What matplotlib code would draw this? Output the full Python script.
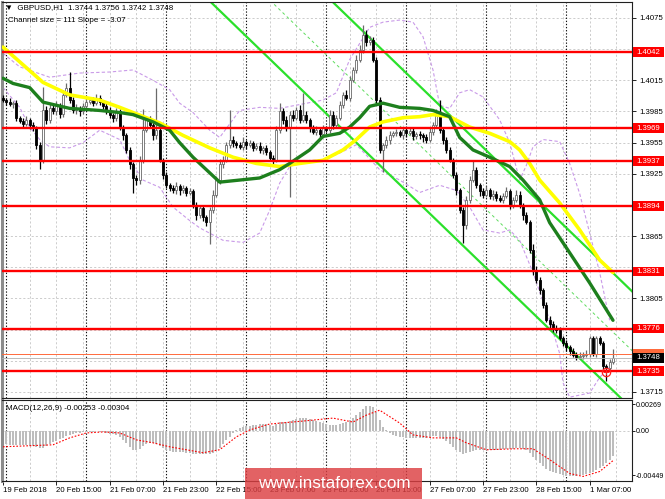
import matplotlib
matplotlib.use('Agg')
import matplotlib.pyplot as plt
import matplotlib.transforms as mtransforms
from matplotlib.patches import Rectangle

plt.rcParams['font.family'] = ['Liberation Sans', 'DejaVu Sans']

# --- GBPUSD H1, 19 Feb 23:00 .. 1 Mar 15:00 (one value per bar) ---
first_open = 1.3998
closes = [
    1.3996, 1.3994, 1.3992, 1.3993, 1.3979, 1.3976, 1.3973, 1.3977, 1.3972, 1.3969,
    1.3953, 1.3938, 1.3986, 1.3977, 1.3988, 1.3985, 1.3991, 1.3983, 1.4001, 1.4008,
    1.3996, 1.3986, 1.3988, 1.3985, 1.3990, 1.3994, 1.3996, 1.3993, 1.3998, 1.3994,
    1.3990, 1.3985, 1.3982, 1.3979, 1.3985, 1.3969, 1.3962, 1.3948, 1.3934, 1.3921,
    1.3919, 1.3938, 1.3967, 1.3977, 1.3972, 1.3962, 1.3967, 1.3938, 1.3924, 1.3914,
    1.3911, 1.3909, 1.3913, 1.3909, 1.3911, 1.3907, 1.3908, 1.3895, 1.3885, 1.3892,
    1.3883, 1.3879, 1.3890, 1.3905, 1.3919, 1.3934, 1.3938, 1.3953, 1.3958, 1.3955,
    1.3953, 1.3951, 1.3956, 1.3953, 1.3955, 1.3950, 1.3952, 1.3948, 1.3950, 1.3946,
    1.3940, 1.3938, 1.3967, 1.3985, 1.3977, 1.3969, 1.3982, 1.3979, 1.3986, 1.3977,
    1.3982, 1.3977, 1.3969, 1.3965, 1.3967, 1.3963, 1.3969, 1.3967, 1.3982, 1.3972,
    1.3979, 1.3991, 1.4001, 1.3998, 1.4015, 1.4025, 1.4035, 1.4044, 1.4059, 1.4052,
    1.4054, 1.4035, 1.3996, 1.3948, 1.3953, 1.3958, 1.3962, 1.3964, 1.3965, 1.3962,
    1.3967, 1.3964, 1.3966, 1.3961, 1.3963, 1.3962, 1.3960, 1.3958, 1.3965, 1.3972,
    1.3982, 1.3967, 1.3958, 1.3948, 1.3938, 1.3924, 1.3909, 1.3890, 1.3876, 1.3900,
    1.3919, 1.3929, 1.3914, 1.3908, 1.3905, 1.3909, 1.3904, 1.3906, 1.3902, 1.3900,
    1.3904, 1.3908, 1.3895, 1.3900, 1.3905, 1.3895, 1.3885, 1.3879, 1.3852, 1.3832,
    1.3823, 1.3813, 1.3799, 1.3784, 1.3780, 1.3777, 1.3775, 1.3767, 1.3762, 1.3758,
    1.3754, 1.3751, 1.3749, 1.3750, 1.3751, 1.3752, 1.3767, 1.3752, 1.3767, 1.3762,
    1.3740, 1.3738, 1.3744, 1.3748]
# shadow lengths in pips
up_wick = [
    3, 2, 4, 2, 3, 2, 3, 4, 2, 3,
    2, 3, 23, 4, 5, 3, 4, 2, 5, 4,
    15, 3, 4, 2, 3, 4, 2, 3, 4, 3,
    2, 3, 4, 2, 3, 2, 3, 2, 3, 2,
    3, 4, 20, 3, 4, 2, 41, 3, 2, 3,
    2, 3, 4, 2, 3, 2, 3, 2, 3, 2,
    3, 2, 3, 4, 3, 5, 4, 3, 28, 3,
    2, 3, 4, 2, 3, 2, 3, 4, 2, 3,
    2, 3, 4, 8, 3, 4, 3, 4, 3, 5,
    21, 3, 2, 3, 4, 2, 3, 2, 4, 3,
    3, 4, 3, 5, 4, 3, 4, 5, 9, 4,
    4, 3, 2, 3, 2, 3, 4, 2, 3, 2,
    3, 2, 3, 4, 2, 3, 2, 3, 4, 3,
    5, 14, 3, 2, 3, 2, 3, 2, 3, 4,
    4, 9, 3, 2, 3, 4, 2, 3, 2, 3,
    3, 4, 2, 3, 4, 3, 2, 3, 2, 5,
    4, 3, 2, 3, 4, 3, 2, 3, 2, 3,
    2, 3, 2, 3, 2, 3, 2, 2, 2, 2,
    2, 2, 3, 8]
dn_wick = [
    2, 3, 2, 4, 3, 2, 3, 2, 4, 3,
    4, 8, 3, 4, 3, 2, 3, 4, 3, 2,
    3, 2, 3, 4, 2, 3, 2, 3, 2, 3,
    3, 2, 3, 4, 3, 2, 4, 3, 4, 14,
    5, 4, 3, 2, 3, 4, 3, 2, 4, 3,
    3, 2, 3, 4, 2, 3, 2, 3, 4, 3,
    3, 4, 22, 3, 2, 4, 3, 2, 3, 4,
    3, 2, 3, 4, 2, 3, 2, 3, 4, 3,
    3, 4, 2, 3, 4, 3, 66, 3, 2, 3,
    2, 3, 4, 2, 3, 4, 3, 2, 3, 4,
    3, 2, 3, 2, 3, 2, 3, 2, 3, 4,
    3, 2, 3, 3, 21, 3, 4, 2, 3, 2,
    3, 4, 2, 3, 2, 3, 4, 3, 2, 3,
    2, 3, 4, 3, 2, 3, 4, 3, 18, 4,
    3, 2, 3, 4, 3, 2, 3, 4, 3, 2,
    3, 2, 4, 3, 2, 3, 4, 2, 3, 4,
    3, 4, 3, 2, 3, 4, 3, 2, 3, 4,
    3, 2, 3, 2, 3, 2, 3, 2, 3, 2,
    3, 12, 2, 2]

# moving averages (bar index, price)
ma_slow_bar = [0, 12, 20, 29, 35, 39, 47, 54, 62, 69, 76, 83, 89, 96, 102, 106, 110, 114, 120, 125,
               129, 134, 140, 146, 152, 155, 158, 161, 167, 173, 179, 183]
ma_slow = [1.4047, 1.4013, 1.4001, 1.3996, 1.3989, 1.3984, 1.3974, 1.3962, 1.3950, 1.3941,
           1.3935, 1.3932, 1.3935, 1.3938, 1.3948, 1.3958, 1.3970, 1.3975, 1.3979, 1.3980,
           1.3982, 1.3980, 1.3970, 1.3964, 1.3956, 1.3948, 1.3935, 1.3919, 1.3897, 1.3871,
           1.3842, 1.3830]
ma_fast_bar = [0, 3, 8, 12, 20, 29, 35, 39, 45, 50, 53, 57, 60, 65, 71, 77, 83, 86, 92, 96,
               101, 104, 107, 110, 114, 119, 125, 129, 134, 137, 141, 146, 152, 156, 161, 164, 170, 176, 183]
ma_fast = [1.4017, 1.4012, 1.4008, 1.3994, 1.3988, 1.3986, 1.3984, 1.3982, 1.3975, 1.3967,
           1.3955, 1.3941, 1.3932, 1.3917, 1.3919, 1.3921, 1.3929, 1.3935, 1.3948, 1.3961,
           1.3964, 1.3970, 1.3979, 1.3990, 1.3993, 1.3989, 1.3988, 1.3986, 1.3980, 1.3960,
           1.3948, 1.3941, 1.3932, 1.3919, 1.3900, 1.3878, 1.3849, 1.3820, 1.3784]

# bollinger bands
bb_up_bar = [0, 5, 14, 23, 32, 39, 45, 50, 53, 57, 62, 65, 71, 77, 83, 96, 100, 104, 110, 114,
             119, 123, 126, 129, 131, 134, 137, 140, 144, 149, 152, 155, 157, 159, 162, 167, 170, 173, 176, 179, 182]
bb_up = [1.4041, 1.4028, 1.4018, 1.4022, 1.4023, 1.4025, 1.4015, 1.4006, 1.3993, 1.3984,
         1.3967, 1.3960, 1.3986, 1.3989, 1.3988, 1.3996, 1.4003, 1.4035, 1.4066, 1.4071,
         1.4073, 1.4071, 1.4057, 1.4025, 1.3991, 1.3988, 1.4003, 1.4006, 1.3999, 1.3977,
         1.3955, 1.3919, 1.3933, 1.3951, 1.3958, 1.3956, 1.3935, 1.3906, 1.3868, 1.3830, 1.3784]
bb_dn_bar = [0, 5, 8, 11, 14, 20, 24, 29, 35, 38, 42, 47, 51, 56, 59, 66, 72, 77, 80, 83,
             86, 92, 96, 101, 106, 109, 113, 119, 125, 131, 136, 140, 144, 149, 152, 155, 159, 164, 167, 168,
             170, 176, 179, 182]
bb_dn = [1.4008, 1.3989, 1.3970, 1.3958, 1.3951, 1.3950, 1.3955, 1.3967, 1.3958, 1.3938,
         1.3919, 1.3912, 1.3893, 1.3880, 1.3873, 1.3861, 1.3859, 1.3868, 1.3890, 1.3916,
         1.3932, 1.3938, 1.3938, 1.3945, 1.3953, 1.3943, 1.3929, 1.3919, 1.3907, 1.3914,
         1.3909, 1.3893, 1.3871, 1.3868, 1.3871, 1.3861, 1.3830, 1.3784, 1.3752, 1.3724,
         1.3710, 1.3714, 1.3729, 1.3739]

# regression channel (start / end)
chan_top_bar, chan_top = [98.4, 189.0], [1.4092, 1.3811]
chan_bot_bar, chan_bot = [61.8, 185.4], [1.4092, 1.3709]
chan_mid_bar, chan_mid = [80.1, 189.0], [1.4092, 1.3754]

levels = [1.4042, 1.3969, 1.3937, 1.3894, 1.3831, 1.3776, 1.3735]
price_ticks = [1.3715, 1.3745, 1.3775, 1.3805, 1.3835, 1.3865, 1.3895, 1.3925,
               1.3955, 1.3985, 1.4015, 1.4045, 1.4075]
bid, ask = 1.3748, 1.3752

# MACD(12,26,9)
macd_main = [
    -0.0013, -0.0013, -0.0014, -0.0014, -0.0014, -0.0014, -0.0014, -0.0014, -0.0015, -0.0015,
    -0.0016, -0.0017, -0.0017, -0.0015, -0.0013, -0.0011, -0.0010, -0.0008, -0.0007, -0.0005,
    -0.0004, -0.0003, -0.0002, -0.0002, -0.0001, -0.0001, -0.0001, -0.0001, 0.0000, -0.0001,
    -0.0001, -0.0002, -0.0003, -0.0003, -0.0004, -0.0006, -0.0009, -0.0012, -0.0016, -0.0019,
    -0.0019, -0.0018, -0.0015, -0.0013, -0.0012, -0.0012, -0.0013, -0.0015, -0.0017, -0.0019,
    -0.0020, -0.0021, -0.0021, -0.0021, -0.0021, -0.0022, -0.0022, -0.0023, -0.0023, -0.0023,
    -0.0023, -0.0023, -0.0023, -0.0022, -0.0020, -0.0017, -0.0013, -0.0009, -0.0006, -0.0002,
    0.0001, 0.0003, 0.0004, 0.0005, 0.0005, 0.0006, 0.0006, 0.0007, 0.0007, 0.0007,
    0.0006, 0.0005, 0.0007, 0.0009, 0.0009, 0.0009, 0.0010, 0.0011, 0.0012, 0.0013,
    0.0013, 0.0013, 0.0012, 0.0011, 0.0010, 0.0009, 0.0008, 0.0007, 0.0006, 0.0006,
    0.0006, 0.0007, 0.0008, 0.0009, 0.0011, 0.0013, 0.0016, 0.0019, 0.0022, 0.0025,
    0.0025, 0.0024, 0.0019, 0.0011, 0.0004, 0.0001, -0.0002, -0.0004, -0.0005, -0.0006,
    -0.0006, -0.0007, -0.0007, -0.0007, -0.0007, -0.0007, -0.0007, -0.0007, -0.0006, -0.0005,
    -0.0005, -0.0006, -0.0008, -0.0010, -0.0013, -0.0016, -0.0019, -0.0021, -0.0023, -0.0022,
    -0.0021, -0.0020, -0.0019, -0.0019, -0.0019, -0.0019, -0.0019, -0.0019, -0.0019, -0.0019,
    -0.0018, -0.0018, -0.0018, -0.0018, -0.0017, -0.0017, -0.0018, -0.0019, -0.0022, -0.0026,
    -0.0029, -0.0032, -0.0035, -0.0038, -0.0040, -0.0042, -0.0043, -0.0044, -0.0045, -0.0046,
    -0.0046, -0.0046, -0.0046, -0.0045, -0.0045, -0.0044, -0.0043, -0.0041, -0.0039, -0.0037,
    -0.0035, -0.0032, -0.0029, -0.0025]
signal_bar = [0, 15, 20, 25, 30, 35, 40, 45, 50, 55, 60, 65, 70, 74, 80, 90, 99, 105, 109, 113,
              119, 123, 129, 136, 139, 145, 154, 159, 164, 170, 174, 179, 183]
signal_val = [-0.0016, -0.0014, -0.0007, -0.0002, -0.0001, -0.0002, -0.0009, -0.0012, -0.0016, -0.0019,
              -0.0022, -0.0019, -0.0006, 0.0001, 0.0007, 0.0010, 0.0013, 0.0009, 0.0016, 0.0021,
              0.0008, -0.0004, -0.0007, -0.0007, -0.0012, -0.0019, -0.0018, -0.0018, -0.0029, -0.0043,
              -0.0046, -0.0041, -0.0030]
macd_ticks = [0.00269, 0.0, -0.00449]
macd_tick_labels = ['0.00269', '0.00', '-0.00449']

time_labels = ['19 Feb 2018', '20 Feb 15:00', '21 Feb 07:00', '21 Feb 23:00', '22 Feb 15:00',
               '23 Feb 07:00', '23 Feb 23:00', '26 Feb 15:00', '27 Feb 07:00', '27 Feb 23:00',
               '28 Feb 15:00', '1 Mar 07:00']
day_starts = [1, 25, 49, 73, 97, 121, 145, 169]

n = len(closes)
bars = list(range(n))
opens = [first_open] + closes[:-1]
highs = [max(o, c) + u / 10000 for o, c, u in zip(opens, closes, up_wick)]
lows = [min(o, c) - d / 10000 for o, c, d in zip(opens, closes, dn_wick)]

W, H = 665, 499
fig = plt.figure(figsize=(W / 100, H / 100), dpi=100)
ax = fig.add_axes([2 / W, 1 - 398 / H, 630 / W, 396 / H])
ax2 = fig.add_axes([2 / W, 1 - 481 / H, 630 / W, 81 / H])

XL = (-0.3, 188.7)
for a in (ax, ax2):
    a.set_xlim(*XL)
    for s in a.spines.values():
        s.set_linewidth(0.8)
        s.set_color('#202020')
    a.spines['left'].set_color('#8c8c8c')
    a.spines['left'].set_linewidth(2.2)
    # grid: gray dashed every 8 bars, black dotted day separators
    for b in range(0, 189, 8):
        a.axvline(b, color='#c4c4c4', lw=0.6, ls=(0, (2.5, 2.5)), zorder=0)
    for b in day_starts:
        a.axvline(b, color='#101010', lw=0.8, ls=(0, (1.2, 1.6)), zorder=0.5)

ax.set_ylim(1.37092, 1.40904)
for t in price_ticks:
    ax.axhline(t, color='#c4c4c4', lw=0.6, ls=(0, (2.5, 2.5)), zorder=0)

# bollinger
ax.plot(bb_up_bar, bb_up, color='#c99ae8', lw=0.8, ls=(0, (3, 2)), zorder=1)
ax.plot(bb_dn_bar, bb_dn, color='#c99ae8', lw=0.8, ls=(0, (3, 2)), zorder=1)

# channel
ax.plot(chan_top_bar, chan_top, color='#2be02b', lw=1.6, zorder=2)
ax.plot(chan_bot_bar, chan_bot, color='#2be02b', lw=1.6, zorder=2)
ax.plot(chan_mid_bar, chan_mid, color='#5fdc5f', lw=0.7, ls=(0, (3, 3)), zorder=2)

# candles
up = [c >= o for o, c in zip(opens, closes)]
wick_col = ['#6a6a6a' if u else '#000000' for u in up]
ax.vlines(bars, lows, highs, colors=wick_col, lw=0.9, zorder=3)
body_bottom = [min(o, c) for o, c in zip(opens, closes)]
body_h = [max(abs(c - o), 0.00006) for o, c in zip(opens, closes)]
ax.bar(bars, body_h, bottom=body_bottom, width=0.62,
       color=['#ffffff' if u else '#000000' for u in up],
       edgecolor=['#6a6a6a' if u else '#000000' for u in up], linewidth=0.6, zorder=3.5)

# moving averages
ax.plot(ma_slow_bar, ma_slow, color='#ffff00', lw=2.6, solid_capstyle='round', zorder=4)
ax.plot(ma_fast_bar, ma_fast, color='#1d7f1d', lw=2.4, solid_capstyle='round', zorder=4.2)

# horizontal levels
for lv in levels:
    ax.axhline(lv, color='#ff0000', lw=1.7, zorder=5)
ax.axhline(ask, color='#ff6a3c', lw=0.7, zorder=5)
ax.axhline(bid, color='#b0b0b0', lw=0.6, zorder=5)

# alert marker near the low
ax.plot([181], [1.3734], marker='o', ms=6, mfc='none', mec='#ff2020', mew=0.9, zorder=6)
ax.plot([181], [1.3734], marker='+', ms=4, color='#ff2020', mew=0.7, zorder=6)

# tick labels hidden behind the level boxes stay blank, as on the terminal
covered = [1.3745, 1.3775, 1.3835, 1.3895, 1.4045]
ax.set_xticks([])
ax.yaxis.tick_right()
ax.set_yticks(price_ticks)
ax.set_yticklabels(['' if t in covered else f'{t:.4f}' for t in price_ticks])
ax.tick_params(axis='y', length=3, width=0.6, pad=2, labelsize=5.6, colors='#000000')

# price labels on the right scale
blend = mtransforms.blended_transform_factory(fig.transFigure, ax.transData)
def price_box(price, face, show_text=True):
    fig.add_artist(Rectangle((633 / W, price - 0.00047), 31 / W, 0.00094, transform=blend,
                             facecolor=face, edgecolor='none', clip_on=False))
    if show_text:
        fig.text(636 / W, price, f'{price:.4f}', transform=blend, color='white',
                 va='center', ha='left', fontsize=5.6)

for lv in levels:
    price_box(lv, '#ff0000')
price_box(ask, '#ff6a3c', show_text=False)
price_box(bid, '#000000')

fig.text(5 / W, 1 - 8 / H, '\u25bc  GBPUSD,H1  1.3744 1.3756 1.3742 1.3748',
         fontsize=5.8, va='center', ha='left', color='#000000')
fig.text(8 / W, 1 - 20 / H, 'Channel size = 111 Slope = -3.07',
         fontsize=5.8, va='center', ha='left', color='#000000')

# MACD panel
ax2.set_ylim(-0.00506, 0.00313)
ax2.axhline(0, color='#c4c4c4', lw=0.6, ls=(0, (2.5, 2.5)), zorder=0)
ax2.bar(bars, macd_main, width=0.6, color='#bdbdbd', zorder=2)
ax2.plot(signal_bar, signal_val, color='#ff0000', lw=0.8, ls=(0, (1.5, 1.5)), zorder=3)
ax2.yaxis.tick_right()
ax2.set_yticks(macd_ticks)
ax2.set_yticklabels(macd_tick_labels)
ax2.tick_params(axis='y', length=2, width=0.6, pad=1, labelsize=5.1)
ax2.set_xticks([16 * k for k in range(len(time_labels))])
ax2.set_xticklabels(time_labels, ha='left')
ax2.tick_params(axis='x', length=3, width=0.6, pad=1.5, labelsize=5.6)
fig.text(6 / W, 1 - 408 / H, 'MACD(12,26,9) -0.00253 -0.00304',
         fontsize=5.8, va='center', ha='left', color='#000000')

# watermark
fig.add_artist(Rectangle((245 / W, 0), 177 / W, 31 / H, transform=fig.transFigure,
                         facecolor='#dc3f42', edgecolor='none', alpha=0.82))
fig.text(334 / W, 15 / H, 'www.instaforex.com', fontsize=12.3, color='white',
         ha='center', va='center')

fig.savefig('out.png', dpi=100)
plt.close(fig)
